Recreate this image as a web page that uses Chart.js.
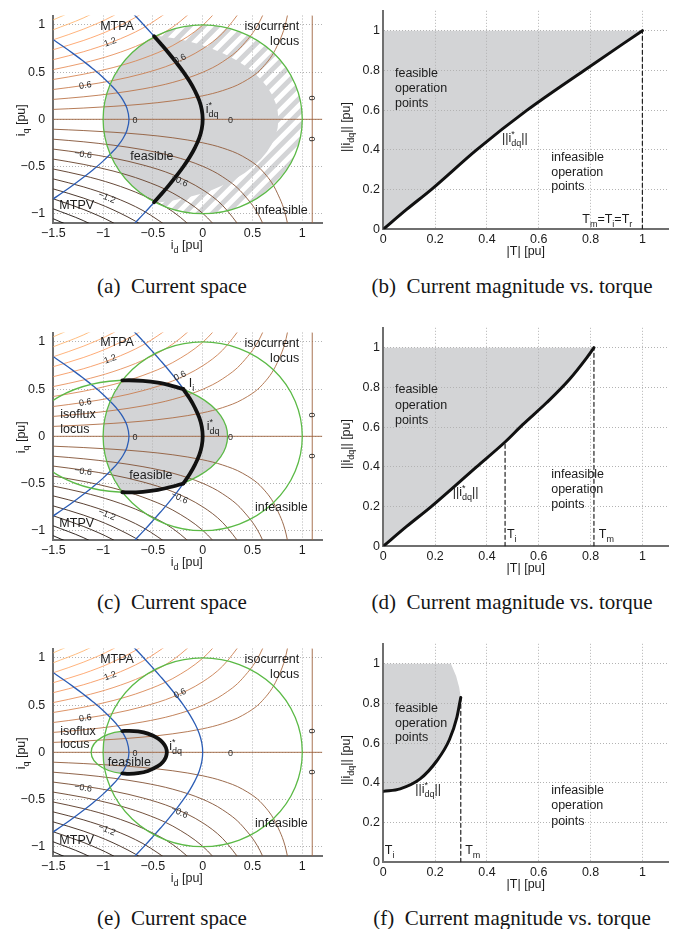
<!DOCTYPE html>
<html><head><meta charset="utf-8">
<script src="https://cdn.jsdelivr.net/npm/chart.js@4.4.1/dist/chart.umd.min.js"></script>
<style>
html,body{margin:0;padding:0;background:#fff;}
body{width:686px;height:929px;position:relative;overflow:hidden;}
canvas{position:absolute;display:block;}
.cap{position:absolute;font-family:"Liberation Serif","Times New Roman",serif;font-size:21px;line-height:21px;color:#151515;white-space:pre;transform:translateX(-50%);}
</style></head>
<body>
<canvas id="ca" width="330" height="260" style="left:0;top:0"></canvas>
<canvas id="cb" width="356" height="260" style="left:330px;top:0"></canvas>
<canvas id="cc" width="330" height="260" style="left:0;top:317px"></canvas>
<canvas id="cd" width="356" height="260" style="left:330px;top:317px"></canvas>
<canvas id="ce" width="330" height="260" style="left:0;top:633px"></canvas>
<canvas id="cf" width="356" height="260" style="left:330px;top:633px"></canvas>
<div class="cap" style="left:172px;top:276px">(a)  Current space</div>
<div class="cap" style="left:512px;top:276px">(b)  Current magnitude vs. torque</div>
<div class="cap" style="left:172px;top:592px">(c)  Current space</div>
<div class="cap" style="left:512px;top:592px">(d)  Current magnitude vs. torque</div>
<div class="cap" style="left:172px;top:908px">(e)  Current space</div>
<div class="cap" style="left:512px;top:908px">(f)  Current magnitude vs. torque</div>
<script>
// ===================== DATA =====================
// tick labels
const idTicks = [-1.5, -1, -0.5, 0, 0.5, 1];
const iqTicks = [-1, -0.5, 0, 0.5, 1];
const torqueTicks = [0, 0.2, 0.4, 0.6, 0.8, 1];
const currentTicks = [0, 0.2, 0.4, 0.6, 0.8, 1];
const idRange = [-1.5, 1.2];
const iqRange = [-1.1, 1.1];
const torqueRange = [0, 1.1];
const currentRange = [0, 1.1];

// torque contours (levels and their iq values at the sampled id positions)
const contourId = [-1.5, -1.2, -0.9, -0.6, -0.3, 0, 0.2, 0.4, 0.6, 0.75, 0.85, 0.95];
const contourLevels = [0.2, 0.4, 0.6, 0.8, 1.0, 1.2, 1.4, 1.6, 1.8, 2.0];
const contourIq = [
  [0.105, 0.119, 0.137, 0.161, 0.196, 0.249, 0.304, 0.391, 0.548, 0.783, 1.096, 1.826],
  [0.211, 0.238, 0.274, 0.322, 0.391, 0.498, 0.609, 0.783, 1.096, 1.566],
  [0.316, 0.358, 0.411, 0.484, 0.587, 0.747, 0.913, 1.174],
  [0.422, 0.477, 0.548, 0.645, 0.782, 0.996, 1.218],
  [0.527, 0.596, 0.685, 0.806, 0.978, 1.245],
  [0.632, 0.715, 0.822, 0.967, 1.174],
  [0.738, 0.834, 0.959, 1.128, 1.369],
  [0.843, 0.954, 1.096, 1.290],
  [0.949, 1.073, 1.233],
  [1.054, 1.192]
];
const zeroContourId = [-1.5, 1.2];
const zeroContourVerticalId = 1.1;

// MTPA and MTPV loci
const mtpaIq = [1.15, 1.1, 1.0, 0.9, 0.8, 0.7, 0.6, 0.5, 0.4, 0.3, 0.2, 0.1, 0, -0.1, -0.2, -0.3, -0.4, -0.5, -0.6, -0.7, -0.8, -0.9, -1.0, -1.1, -1.15];
const mtpaId = [-0.725, -0.680, -0.591, -0.505, -0.421, -0.340, -0.264, -0.193, -0.130, -0.077, -0.035, -0.009, 0, -0.009, -0.035, -0.077, -0.130, -0.193, -0.264, -0.340, -0.421, -0.505, -0.591, -0.680, -0.725];
const mtpvId = [-1.55, -1.5, -1.4, -1.3, -1.2, -1.1, -1.0, -0.9, -0.85, -0.8, -0.76, -0.74, -0.76, -0.8, -0.85, -0.9, -1.0, -1.1, -1.2, -1.3, -1.4, -1.5, -1.55];
const mtpvIq = [0.879, 0.843, 0.771, 0.696, 0.617, 0.534, 0.443, 0.339, 0.278, 0.203, 0.116, 0, -0.116, -0.203, -0.278, -0.339, -0.443, -0.534, -0.617, -0.696, -0.771, -0.843, -0.879];

// isocurrent circle and isoflux ellipses (panels a, c, e)
const currentLimit = 1.0;
const fluxCenterId = -0.74;
const fluxSemiD = [1.5, 0.99, 0.38];
const fluxSemiQ = [0.9, 0.594, 0.228];

// optimal reference trajectories i*dq
const refA_id = [-0.488, -0.421, -0.340, -0.264, -0.193, -0.130, -0.077, -0.035, -0.009, 0, -0.009, -0.035, -0.077, -0.130, -0.193, -0.264, -0.340, -0.421, -0.488];
const refA_iq = [0.88, 0.8, 0.7, 0.6, 0.5, 0.4, 0.3, 0.2, 0.1, 0, -0.1, -0.2, -0.3, -0.4, -0.5, -0.6, -0.7, -0.8, -0.88];
const refC_arcId = [-0.807, -0.74, -0.6, -0.45, -0.3, -0.195];
const refC_arcIq = [0.593, 0.594, 0.588, 0.568, 0.532, 0.5];
const refC_mtpaId = [-0.195, -0.130, -0.077, -0.035, -0.009, 0, -0.009, -0.035, -0.077, -0.130, -0.195];
const refC_mtpaIq = [0.5, 0.4, 0.3, 0.2, 0.1, 0, -0.1, -0.2, -0.3, -0.4, -0.5];
const refE_id = [-0.807, -0.74, -0.65, -0.55, -0.45, -0.40, -0.37, -0.36, -0.37, -0.40, -0.45, -0.55, -0.65, -0.74, -0.807];
const refE_iq = [0.224, 0.228, 0.2215, 0.1975, 0.1474, 0.1018, 0.052, 0, -0.052, -0.1018, -0.1474, -0.1975, -0.2215, -0.228, -0.224];

// current magnitude vs torque (panels b, d, f)
const torqueB = [0, 0.09, 0.185, 0.36, 0.555, 0.775, 1.0];
const currentB = [0, 0.1, 0.2, 0.4, 0.6, 0.8, 1.0];
const torqueD = [0, 0.09, 0.185, 0.36, 0.47, 0.537, 0.632, 0.718, 0.785, 0.813];
const currentD = [0, 0.1, 0.2, 0.4, 0.525, 0.611, 0.725, 0.84, 0.949, 1.0];
const torqueF = [0, 0.065, 0.142, 0.206, 0.255, 0.284, 0.299];
const currentF = [0.357, 0.37, 0.42, 0.51, 0.617, 0.73, 0.83];
const edgeTorqueF = [0.299, 0.293, 0.281, 0.261];
const edgeCurrentF = [0.83, 0.88, 0.9375, 1.0];
const markerB_T = [1.0], markerB_top = [1.0];
const markerD_T = [0.47, 0.813], markerD_top = [0.525, 1.0];
const markerF_T = [0.299], markerF_top = [0.83];

// ===================== STYLE / HELPERS =====================
const FAM = '"Liberation Sans", Arial, Helvetica, sans-serif';
const GRAY = '#d3d4d6';
const BLUE = '#2c5db5';
const GREEN = '#5cba47';
const INK = '#1c1c1c';
Chart.defaults.font.family = FAM;

function copper(L){
  const t = (L + 2.2) / 4.4;
  const r = Math.min(1, 1.25 * t), g = 0.7812 * t, b = 0.4975 * t;
  return 'rgb(' + Math.round(r * 255) + ',' + Math.round(g * 255) + ',' + Math.round(b * 255) + ')';
}
function pts(xs, ys){ return xs.map((x, i) => ({x: x, y: ys[i]})); }
function fmt(v){ return String(v).replace('-', '\u2212'); }

function richLayout(ctx, str, size){
  const parts = []; const re = /\^\{([^}]*)\}|_\{([^}]*)\}|([^_^]+)/g; let m;
  while ((m = re.exec(str))) {
    if (m[1] !== undefined) parts.push([m[1], 'sup']);
    else if (m[2] !== undefined) parts.push([m[2], 'sub']);
    else parts.push([m[3], '']);
  }
  let x = 0, supX = null, supW = 0; const items = [];
  for (const [t, mode] of parts) {
    const fs = mode ? size * 0.72 : size;
    ctx.font = fs + 'px ' + FAM;
    const w = ctx.measureText(t).width;
    if (mode === 'sup') { items.push({t, fs, dx: x, dy: -size * 0.42}); supX = x; supW = w; x += w; }
    else if (mode === 'sub') {
      const sx = supX !== null ? supX : x;
      items.push({t, fs, dx: sx, dy: size * 0.32});
      x = supX !== null ? supX + Math.max(w, supW) : x + w; supX = null;
    } else { items.push({t, fs, dx: x, dy: 0}); x += w; supX = null; }
  }
  return {items, width: x};
}
function drawRich(ctx, str, x, y, size, align, rot, color){
  ctx.save(); ctx.translate(x, y); if (rot) ctx.rotate(rot * Math.PI / 180);
  const L = richLayout(ctx, str, size);
  const x0 = align === 'c' ? -L.width / 2 : (align === 'r' ? -L.width : 0);
  ctx.fillStyle = color || INK; ctx.textBaseline = 'alphabetic'; ctx.textAlign = 'left';
  const base = size * 0.36;
  for (const it of L.items) { ctx.font = it.fs + 'px ' + FAM; ctx.fillText(it.t, x0 + it.dx, base + it.dy); }
  ctx.restore();
}

const specs = {};

const decor = {
  id: 'decor',
  beforeDraw(chart){ const s = specs[chart.canvas.id]; if (s && s.fill) s.fill(chart); },
  beforeDatasetDraw(chart, args){
    const s = specs[chart.canvas.id]; const ds = chart.data.datasets[args.index];
    if (s && s.shapes && ds.isMain) s.shapes(chart);
  },
  afterDatasetsDraw(chart){
    const s = specs[chart.canvas.id]; if (!s) return;
    const {ctx, scales: {x, y}, chartArea: A} = chart;
    ctx.save(); ctx.beginPath(); ctx.rect(A.left, A.top, A.width, A.height + 1); ctx.clip();
    (s.small || []).forEach(l => drawRich(ctx, l[0], x.getPixelForValue(l[1]), y.getPixelForValue(l[2]), 9, 'c', l[3] || 0, '#2a2a2a'));
    ctx.restore();
    (s.labels || []).forEach(l => drawRich(ctx, l[0], x.getPixelForValue(l[1]), y.getPixelForValue(l[2]), 12.5, l[3] || 'l', 0, INK));
  },
  afterDraw(chart){
    const s = specs[chart.canvas.id]; if (!s) return;
    const {ctx, chartArea: A} = chart;
    drawRich(ctx, s.xTitle, (A.left + A.right) / 2 + s.xTitleDx, A.bottom + s.xTitleDy, 12.5, 'c', 0, INK);
    drawRich(ctx, s.yTitle, s.yTitleX, (A.top + A.bottom) / 2 + s.yTitleDy, 12.5, 'c', -90, INK);
  }
};
Chart.register(decor);

function ellipseGeom(chart, idx){
  const {scales: {x, y}} = chart;
  const cx = x.getPixelForValue(0), cy = y.getPixelForValue(0);
  return {
    cx, cy,
    rx: x.getPixelForValue(currentLimit) - cx, ry: cy - y.getPixelForValue(currentLimit),
    ex: x.getPixelForValue(fluxCenterId),
    ea: x.getPixelForValue(fluxCenterId + fluxSemiD[idx]) - x.getPixelForValue(fluxCenterId),
    eb: cy - y.getPixelForValue(fluxSemiQ[idx])
  };
}
function leftFill(idx, hatch){
  return function(chart){
    const {ctx, chartArea: A} = chart; const g = ellipseGeom(chart, idx);
    ctx.save();
    ctx.beginPath(); ctx.rect(A.left, A.top, A.width, A.height); ctx.clip();
    ctx.beginPath(); ctx.ellipse(g.cx, g.cy, g.rx, g.ry, 0, 0, 2 * Math.PI); ctx.clip();
    ctx.fillStyle = GRAY;
    if (hatch) {
      ctx.fillRect(A.left, A.top, A.width, A.height);
      ctx.beginPath(); ctx.rect(A.left, A.top, A.width, A.height);
      ctx.moveTo(g.ex + g.ea, g.cy); ctx.ellipse(g.ex, g.cy, g.ea, g.eb, 0, 0, 2 * Math.PI);
      ctx.clip('evenodd');
      ctx.strokeStyle = '#ffffff'; ctx.lineWidth = 5; ctx.beginPath();
      const H = A.height;
      for (let k = -H; k < A.width + H; k += 14) { ctx.moveTo(A.left + k, A.bottom); ctx.lineTo(A.left + k + H, A.top); }
      ctx.stroke();
    } else {
      ctx.beginPath(); ctx.ellipse(g.ex, g.cy, g.ea, g.eb, 0, 0, 2 * Math.PI); ctx.fill();
    }
    ctx.restore();
  };
}
function leftShapes(idx, withEllipse){
  return function(chart){
    const {ctx, chartArea: A} = chart; const g = ellipseGeom(chart, idx);
    ctx.save();
    ctx.beginPath(); ctx.rect(A.left, A.top, A.width, A.height); ctx.clip();
    ctx.strokeStyle = GREEN; ctx.lineWidth = 1.3;
    ctx.beginPath(); ctx.ellipse(g.cx, g.cy, g.rx, g.ry, 0, 0, 2 * Math.PI); ctx.stroke();
    if (withEllipse) { ctx.beginPath(); ctx.ellipse(g.ex, g.cy, g.ea, g.eb, 0, 0, 2 * Math.PI); ctx.stroke(); }
    ctx.restore();
  };
}
function rightFill(extraT, extraV){
  return function(chart){
    const {ctx, scales: {x, y}} = chart;
    const meta = chart.getDatasetMeta(0); const line = meta.dataset;
    const data = chart.data.datasets[0].data;
    ctx.save(); ctx.fillStyle = GRAY; ctx.beginPath();
    let ok = false;
    try {
      if (line && typeof line.path === 'function') {
        if (line.updateControlPoints) line.updateControlPoints(chart.chartArea, 'x');
        line.path(ctx); ok = true;
      }
    } catch (e) { ok = false; }
    if (!ok) { ctx.beginPath(); data.forEach((p, i) => { const px = x.getPixelForValue(p.x), py = y.getPixelForValue(p.y); if (i) ctx.lineTo(px, py); else ctx.moveTo(px, py); }); }
    extraT.forEach((t, i) => ctx.lineTo(x.getPixelForValue(t), y.getPixelForValue(extraV[i])));
    ctx.lineTo(x.getPixelForValue(0), y.getPixelForValue(currentLimit));
    ctx.closePath(); ctx.fill(); ctx.restore();
  };
}

function scaleOpts(range, ticks, padding, fitKey, fitVal){
  return {
    type: 'linear', min: range[0], max: range[1],
    afterBuildTicks: s => { s.ticks = ticks.map(v => ({value: v})); },
    afterFit: s => { s[fitKey] = fitVal; },
    grid: {color: '#b3b3b3', lineWidth: 1, drawTicks: false},
    border: {display: true, color: '#6f6f6f', width: 2, dash: [1, 2]},
    ticks: {padding: padding, color: '#1c1c1c', font: {size: 12.5, family: FAM}, callback: v => fmt(v), autoSkip: false, maxRotation: 0}
  };
}
function baseOptions(isLeft){
  const W = isLeft ? 330 : 356;
  const right = isLeft ? 322.2 : 338.3;
  const top = isLeft ? 4.9 : 4.1;
  const bottom = isLeft ? 223.1 : 229.3;
  return {
    responsive: false, animation: false, devicePixelRatio: 1,
    layout: {padding: {left: 0, top: top, right: W - right, bottom: 0}},
    plugins: {legend: {display: false}, tooltip: {enabled: false}},
    elements: {point: {radius: 0, hoverRadius: 0}, line: {borderCapStyle: 'round', borderJoinStyle: 'round'}},
    events: [],
    scales: isLeft ? {
      x: scaleOpts(idRange, idTicks, 3, 'height', 260 - bottom),
      y: scaleOpts(iqRange, iqTicks, 8, 'width', 53.3)
    } : {
      x: scaleOpts(torqueRange, torqueTicks, 3, 'height', 260 - bottom),
      y: scaleOpts(currentRange, currentTicks, 3.3, 'width', 53.3)
    }
  };
}

function currentSpaceDatasets(blackSegs){
  const ds = [];
  const common = {showLine: true, pointRadius: 0, borderWidth: 0.9, order: 10, fill: false};
  contourLevels.forEach((L, i) => {
    const row = contourIq[i]; const xs = contourId.slice(0, row.length);
    ds.push(Object.assign({data: pts(xs, row), borderColor: copper(L), cubicInterpolationMode: 'monotone'}, common));
    ds.push(Object.assign({data: pts(xs, row.map(v => -v)), borderColor: copper(-L), cubicInterpolationMode: 'monotone'}, common));
  });
  ds.push(Object.assign({data: pts(zeroContourId, [0, 0]), borderColor: copper(0)}, common));
  ds.push(Object.assign({data: pts([zeroContourVerticalId, zeroContourVerticalId], iqRange), borderColor: copper(0)}, common));
  ds.push({data: pts(mtpaId, mtpaIq), showLine: true, pointRadius: 0, borderColor: BLUE, borderWidth: 1.3, tension: 0.4, order: 5});
  ds.push({data: pts(mtpvId, mtpvIq), showLine: true, pointRadius: 0, borderColor: BLUE, borderWidth: 1.3, tension: 0.4, order: 5});
  blackSegs.forEach((seg, k) => {
    const d = {data: pts(seg[0], seg[1]), showLine: true, pointRadius: 0, borderColor: '#111', borderWidth: 3.8, order: 1, isMain: k === blackSegs.length - 1};
    if (seg[2] === 'm') d.cubicInterpolationMode = 'monotone'; else d.tension = 0.4;
    ds.push(d);
  });
  return ds;
}
function magnitudeDatasets(T, V, mT, mTop){
  const ds = [{data: pts(T, V), showLine: true, pointRadius: 0, borderColor: '#111', borderWidth: 3, cubicInterpolationMode: 'monotone', order: 1}];
  mT.forEach((t, i) => ds.push({data: pts([t, t], [0, mTop[i]]), showLine: true, pointRadius: 0, borderColor: '#222', borderWidth: 1.2, borderDash: [4, 3], order: 2}));
  return ds;
}

// ===================== PANELS =====================
const leftTitles = {xTitle: 'i_{d} [pu]', xTitleDx: -1, xTitleDy: 21, yTitle: 'i_{q} [pu]', yTitleX: 20, yTitleDy: 1};
const rightTitles = {xTitle: '|T| [pu]', xTitleDx: 0, xTitleDy: 21, yTitle: '||i_{dq}|| [pu]', yTitleX: 15, yTitleDy: 7};

function contourSmall(mid06, mid12, left06){
  return [
    ['1.2', -0.93, mid12, -20], ['0.6', -1.18, left06, -9], ['0.6', -0.23, mid06, -26],
    ['0', -0.68, 0, 0], ['0', 0.28, 0, 0], ['0', 1.1, 0.225, -90], ['0', 1.1, -0.21, -90],
    ['\u22120.6', -1.2, -left06, 9], ['\u22121.2', -0.96, -mid12, 22], ['\u22120.6', -0.23, -mid06, 26]
  ];
}

specs.ca = Object.assign({
  fill: leftFill(0, true), shapes: leftShapes(0, false),
  small: contourSmall(0.645, 0.823, 0.365),
  labels: [['MTPA', -0.86, 0.99, 'c'], ['isocurrent', 0.97, 0.99, 'r'], ['locus', 0.97, 0.84, 'r'],
    ['i^{*}_{dq}', 0.03, 0.11, 'l'], ['feasible', -0.51, -0.38, 'c'], ['infeasible', 0.79, -0.96, 'c'], ['MTPV', -1.265, -0.9, 'c']]
}, leftTitles);
specs.cc = Object.assign({
  fill: leftFill(1, false), shapes: leftShapes(1, true),
  small: contourSmall(0.646, 0.823, 0.365),
  labels: [['MTPA', -0.86, 1.0, 'c'], ['isocurrent', 0.97, 0.99, 'r'], ['locus', 0.97, 0.84, 'r'],
    ['isoflux', -1.43, 0.238, 'l'], ['locus', -1.43, 0.085, 'l'], ['I_{i}', -0.14, 0.57, 'l'],
    ['i^{*}_{dq}', 0.04, 0.11, 'l'], ['feasible', -0.52, -0.40, 'c'], ['infeasible', 0.79, -0.74, 'c'], ['MTPV', -1.265, -0.918, 'c']]
}, leftTitles);
specs.ce = Object.assign({
  fill: leftFill(2, false), shapes: leftShapes(2, true),
  small: contourSmall(0.63, 0.815, 0.37),
  labels: [['MTPA', -0.86, 0.99, 'c'], ['isocurrent', 0.97, 0.99, 'r'], ['locus', 0.97, 0.84, 'r'],
    ['isoflux', -1.43, 0.236, 'l'], ['locus', -1.43, 0.09, 'l'],
    ['i^{*}_{dq}', -0.335, 0.074, 'l'], ['feasible', -0.737, -0.094, 'c'], ['infeasible', 0.79, -0.744, 'c'], ['MTPV', -1.265, -0.92, 'c']]
}, leftTitles);
specs.cb = Object.assign({
  fill: rightFill([], []),
  labels: [['feasible', 0.045, 0.787], ['operation', 0.045, 0.713], ['points', 0.045, 0.637],
    ['||i^{*}_{dq}||', 0.458, 0.46], ['infeasible', 0.648, 0.366], ['operation', 0.648, 0.29], ['points', 0.648, 0.22],
    ['T_{m}=T_{i}=T_{r}', 0.768, 0.054]]
}, rightTitles);
specs.cd = Object.assign({
  fill: rightFill([], []),
  labels: [['feasible', 0.045, 0.792], ['operation', 0.045, 0.716], ['points', 0.045, 0.637],
    ['||i^{*}_{dq}||', 0.268, 0.275], ['infeasible', 0.648, 0.364], ['operation', 0.648, 0.29], ['points', 0.648, 0.214],
    ['T_{i}', 0.477, 0.065], ['T_{m}', 0.832, 0.065]]
}, rightTitles);
specs.cf = Object.assign({
  fill: rightFill(edgeTorqueF, edgeCurrentF),
  labels: [['feasible', 0.045, 0.78], ['operation', 0.045, 0.706], ['points', 0.045, 0.633],
    ['||i^{*}_{dq}||', 0.123, 0.372], ['infeasible', 0.648, 0.364], ['operation', 0.648, 0.29], ['points', 0.648, 0.212],
    ['T_{i}', 0.006, 0.062], ['T_{m}', 0.316, 0.062]]
}, rightTitles);

new Chart(document.getElementById('ca'), {type: 'scatter', data: {datasets: currentSpaceDatasets([[refA_id, refA_iq]])}, options: baseOptions(true)});
new Chart(document.getElementById('cc'), {type: 'scatter', data: {datasets: currentSpaceDatasets([
  [refC_arcId, refC_arcIq, 'm'], [refC_mtpaId, refC_mtpaIq], [refC_arcId, refC_arcIq.map(v => -v), 'm']])}, options: baseOptions(true)});
new Chart(document.getElementById('ce'), {type: 'scatter', data: {datasets: currentSpaceDatasets([[refE_id, refE_iq]])}, options: baseOptions(true)});
new Chart(document.getElementById('cb'), {type: 'scatter', data: {datasets: magnitudeDatasets(torqueB, currentB, markerB_T, markerB_top)}, options: baseOptions(false)});
new Chart(document.getElementById('cd'), {type: 'scatter', data: {datasets: magnitudeDatasets(torqueD, currentD, markerD_T, markerD_top)}, options: baseOptions(false)});
new Chart(document.getElementById('cf'), {type: 'scatter', data: {datasets: magnitudeDatasets(torqueF, currentF, markerF_T, markerF_top)}, options: baseOptions(false)});
</script>
</body></html>
